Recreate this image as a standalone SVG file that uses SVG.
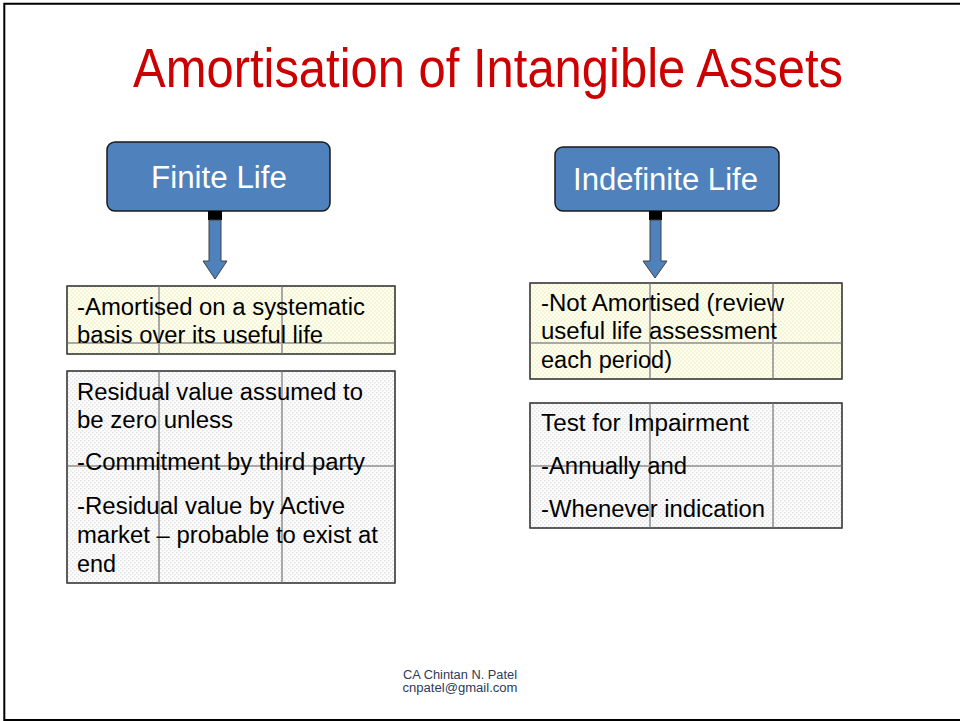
<svg xmlns="http://www.w3.org/2000/svg" width="960" height="721" viewBox="0 0 960 721">
<defs>
<pattern id="pY" width="4" height="4" patternUnits="userSpaceOnUse">
<rect width="4" height="4" fill="#FFFFEF"/>
<rect width="2" height="2" fill="#F5F5D8"/>
<rect x="2" y="2" width="2" height="2" fill="#F5F5D8"/>
</pattern>
<pattern id="pG" width="4" height="4" patternUnits="userSpaceOnUse">
<rect width="4" height="4" fill="#FCFCFC"/>
<rect width="1.5" height="1.5" fill="#E4E4E4"/>
<rect x="2" y="2" width="1.5" height="1.5" fill="#E4E4E4"/>
</pattern>
</defs>
<style>
.t{font-family:"Liberation Sans",Arial,Helvetica,sans-serif;}
.body{font-size:23px;fill:#000;}
.head{fill:#4F81BD;stroke:#1A1A1A;stroke-width:1.5;}
.hl{font-size:31px;fill:#FFFFFF;text-anchor:middle;}
.box{stroke:#404040;stroke-width:1.2;}
.grid{stroke:#A8A8A8;stroke-width:2;fill:none;}
.arrow{fill:#4F81BD;stroke:#404040;stroke-width:1;}
.stub{fill:#000;}
.foot{font-size:12.5px;fill:#2E3A59;text-anchor:middle;}
</style>
<rect width="960" height="721" fill="#FFFFFF"/>
<path d="M960,3.7 H4.3 V720 H960" fill="none" stroke="#000" stroke-width="2"/>
<text id="title" class="t" x="133" y="87" font-size="55" fill="#CC0000" textLength="710" lengthAdjust="spacingAndGlyphs">Amortisation of Intangible Assets</text>

<g id="finite-life">
<rect class="head" x="107" y="142" width="223" height="69" rx="8"/>
<text class="t hl" x="219" y="188" textLength="136" lengthAdjust="spacingAndGlyphs">Finite Life</text>
</g>
<g id="indefinite-life">
<rect class="head" x="555" y="147" width="224" height="64" rx="8"/>
<text class="t hl" x="665.5" y="190" textLength="185" lengthAdjust="spacingAndGlyphs">Indefinite Life</text>
</g>

<g id="connectors">
<rect class="stub" x="208" y="211" width="14" height="9"/>
<path class="arrow" d="M209,220 H221 V261 H227 L215,279 L203,261 H209 Z"/>
<rect class="stub" x="649" y="211" width="13" height="9"/>
<path class="arrow" d="M650,220 H661 V261 H667 L655,278 L643,261 H650 Z"/>
</g>

<g id="finite-box1">
<rect class="box" x="67" y="286" width="328" height="68" fill="url(#pY)"/>
<path class="grid" d="M159,286 V354 M282,286 V354 M67,343 H395"/>
<rect x="67" y="286" width="328" height="68" fill="none" stroke="#404040" stroke-width="1.2"/>
<text class="t body" x="77" y="315" textLength="288" lengthAdjust="spacingAndGlyphs">-Amortised on a systematic</text>
<text class="t body" x="77" y="343" textLength="246" lengthAdjust="spacingAndGlyphs">basis over its useful life</text>
</g>

<g id="finite-box2">
<rect class="box" x="67" y="371" width="328" height="212" fill="url(#pG)"/>
<path class="grid" d="M159,371 V583 M282,371 V583 M67,466 H395"/>
<rect x="67" y="371" width="328" height="212" fill="none" stroke="#404040" stroke-width="1.2"/>
<text class="t body" x="77" y="400" textLength="286" lengthAdjust="spacingAndGlyphs">Residual value assumed to</text>
<text class="t body" x="77" y="428" textLength="156" lengthAdjust="spacingAndGlyphs">be zero unless</text>
<text class="t body" x="77" y="470" textLength="288" lengthAdjust="spacingAndGlyphs">-Commitment by third party</text>
<text class="t body" x="77" y="514" textLength="268" lengthAdjust="spacingAndGlyphs">-Residual value by Active</text>
<text class="t body" x="77" y="543" textLength="301" lengthAdjust="spacingAndGlyphs">market – probable to exist at</text>
<text class="t body" x="77" y="572" textLength="39" lengthAdjust="spacingAndGlyphs">end</text>
</g>

<g id="indefinite-box1">
<rect class="box" x="530" y="283" width="312" height="96" fill="url(#pY)"/>
<path class="grid" d="M650,283 V379 M773,283 V379 M530,343 H842"/>
<rect x="530" y="283" width="312" height="96" fill="none" stroke="#404040" stroke-width="1.2"/>
<text class="t body" x="541" y="311" textLength="243" lengthAdjust="spacingAndGlyphs">-Not Amortised (review</text>
<text class="t body" x="541" y="339" textLength="236" lengthAdjust="spacingAndGlyphs">useful life assessment</text>
<text class="t body" x="541" y="368" textLength="131" lengthAdjust="spacingAndGlyphs">each period)</text>
</g>

<g id="indefinite-box2">
<rect class="box" x="530" y="403" width="312" height="125" fill="url(#pG)"/>
<path class="grid" d="M650,403 V528 M773,403 V528 M530,466 H842"/>
<rect x="530" y="403" width="312" height="125" fill="none" stroke="#404040" stroke-width="1.2"/>
<text class="t body" x="541" y="431" textLength="208" lengthAdjust="spacingAndGlyphs">Test for Impairment</text>
<text class="t body" x="541" y="474" textLength="146" lengthAdjust="spacingAndGlyphs">-Annually and</text>
<text class="t body" x="541" y="517" textLength="224" lengthAdjust="spacingAndGlyphs">-Whenever indication</text>
</g>

<g id="footer">
<text class="t foot" x="460" y="679" textLength="114" lengthAdjust="spacingAndGlyphs">CA Chintan N. Patel</text>
<text class="t foot" x="460" y="692" textLength="115" lengthAdjust="spacingAndGlyphs">cnpatel@gmail.com</text>
</g>
</svg>
